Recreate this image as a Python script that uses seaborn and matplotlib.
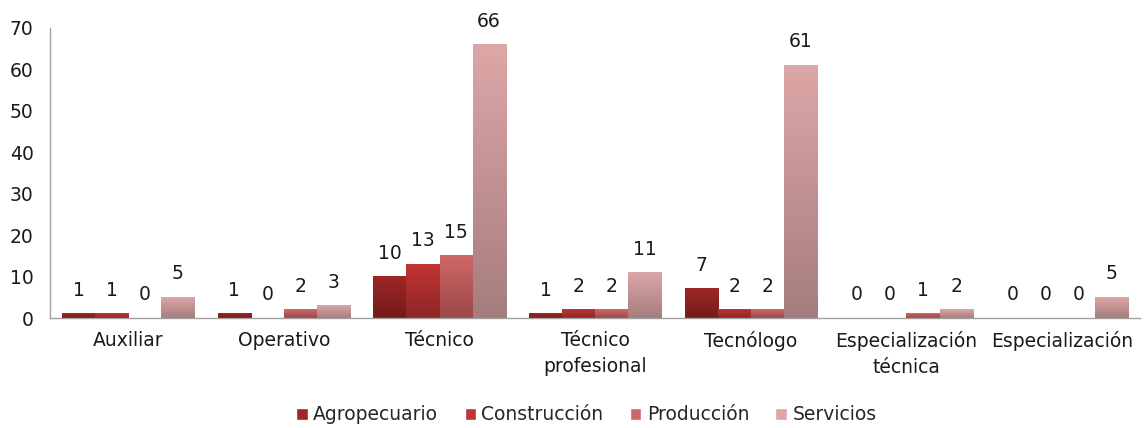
import numpy as np
import pandas as pd
import matplotlib
matplotlib.use("Agg")
import matplotlib.pyplot as plt
import matplotlib.colors as mcolors
import seaborn as sns

# datos
categorias = ["Auxiliar", "Operativo", "Técnico", "Técnico\nprofesional",
              "Tecnólogo", "Especialización\ntécnica", "Especialización"]
series = ["Agropecuario", "Construcción", "Producción", "Servicios"]
agropecuario = [1, 1, 10, 1, 7, 0, 0]
construccion = [1, 0, 13, 2, 2, 0, 0]
produccion = [0, 2, 15, 2, 2, 1, 0]
servicios = [5, 3, 66, 11, 61, 2, 5]

colores = ["#9E2626", "#C23434", "#D06868", "#DDA6A7"]
colores_oscuros = ["#741B1B", "#8E2525", "#9C4848", "#A67D7E"]

df = pd.DataFrame({
    "categoria": np.repeat(categorias, 4),
    "serie": series * len(categorias),
    "valor": np.array([agropecuario, construccion, produccion, servicios]).T.ravel(),
})

sns.set_theme(style="white")
plt.rcParams["font.family"] = ["DejaVu Sans"]
FS = 13.5
TXT = "#1A1A1A"

fig = plt.figure(figsize=(11.44, 4.28), dpi=100)
ax = fig.add_axes([0.044, 0.257, 0.9525, 0.678])

sns.barplot(data=df, x="categoria", y="valor", hue="serie", order=categorias,
            hue_order=series, palette=colores, width=0.85, saturation=1,
            errorbar=None, ax=ax, legend=True)

# degradado vertical en cada barra (claro arriba, oscuro abajo)
for cont, c_top, c_bot in zip(ax.containers, colores, colores_oscuros):
    top = np.array(mcolors.to_rgb(c_top))
    bot = np.array(mcolors.to_rgb(c_bot))
    grad = np.linspace(0, 1, 64)[:, None]
    img = top[None, None, :] * (1 - grad[:, :, None]) + bot[None, None, :] * grad[:, :, None]
    for bar in cont:
        x0, w, h = bar.get_x(), bar.get_width(), bar.get_height()
        if h <= 0:
            continue
        ax.imshow(img, extent=[x0, x0 + w, 0, h], aspect="auto", zorder=bar.get_zorder() + 0.1,
                  interpolation="bilinear")
    ax.bar_label(cont, labels=[f"{v:g}" for v in cont.datavalues], padding=10,
                 fontsize=FS, color=TXT)

ax.set_xlim(-0.5, len(categorias) - 0.5)
ax.set_ylim(0, 70)
ax.set_yticks(range(0, 71, 10))
ax.set_xlabel("")
ax.set_ylabel("")
ax.tick_params(axis="both", length=0, labelsize=FS, colors=TXT)
ax.tick_params(axis="y", pad=12)
ax.tick_params(axis="x", pad=9)
for lbl in ax.get_xticklabels():
    lbl.set_linespacing(1.5)
for s in ["top", "right"]:
    ax.spines[s].set_visible(False)
for s in ["left", "bottom"]:
    ax.spines[s].set_color("#A0A0A0")
    ax.spines[s].set_linewidth(1)

ax.legend(loc="center", bbox_to_anchor=(0.492, -0.334), ncol=4, frameon=False,
          fontsize=FS, handlelength=0.6, handleheight=0.6, handletextpad=0.3,
          columnspacing=1.4)

fig.savefig("out.png", dpi=100)
